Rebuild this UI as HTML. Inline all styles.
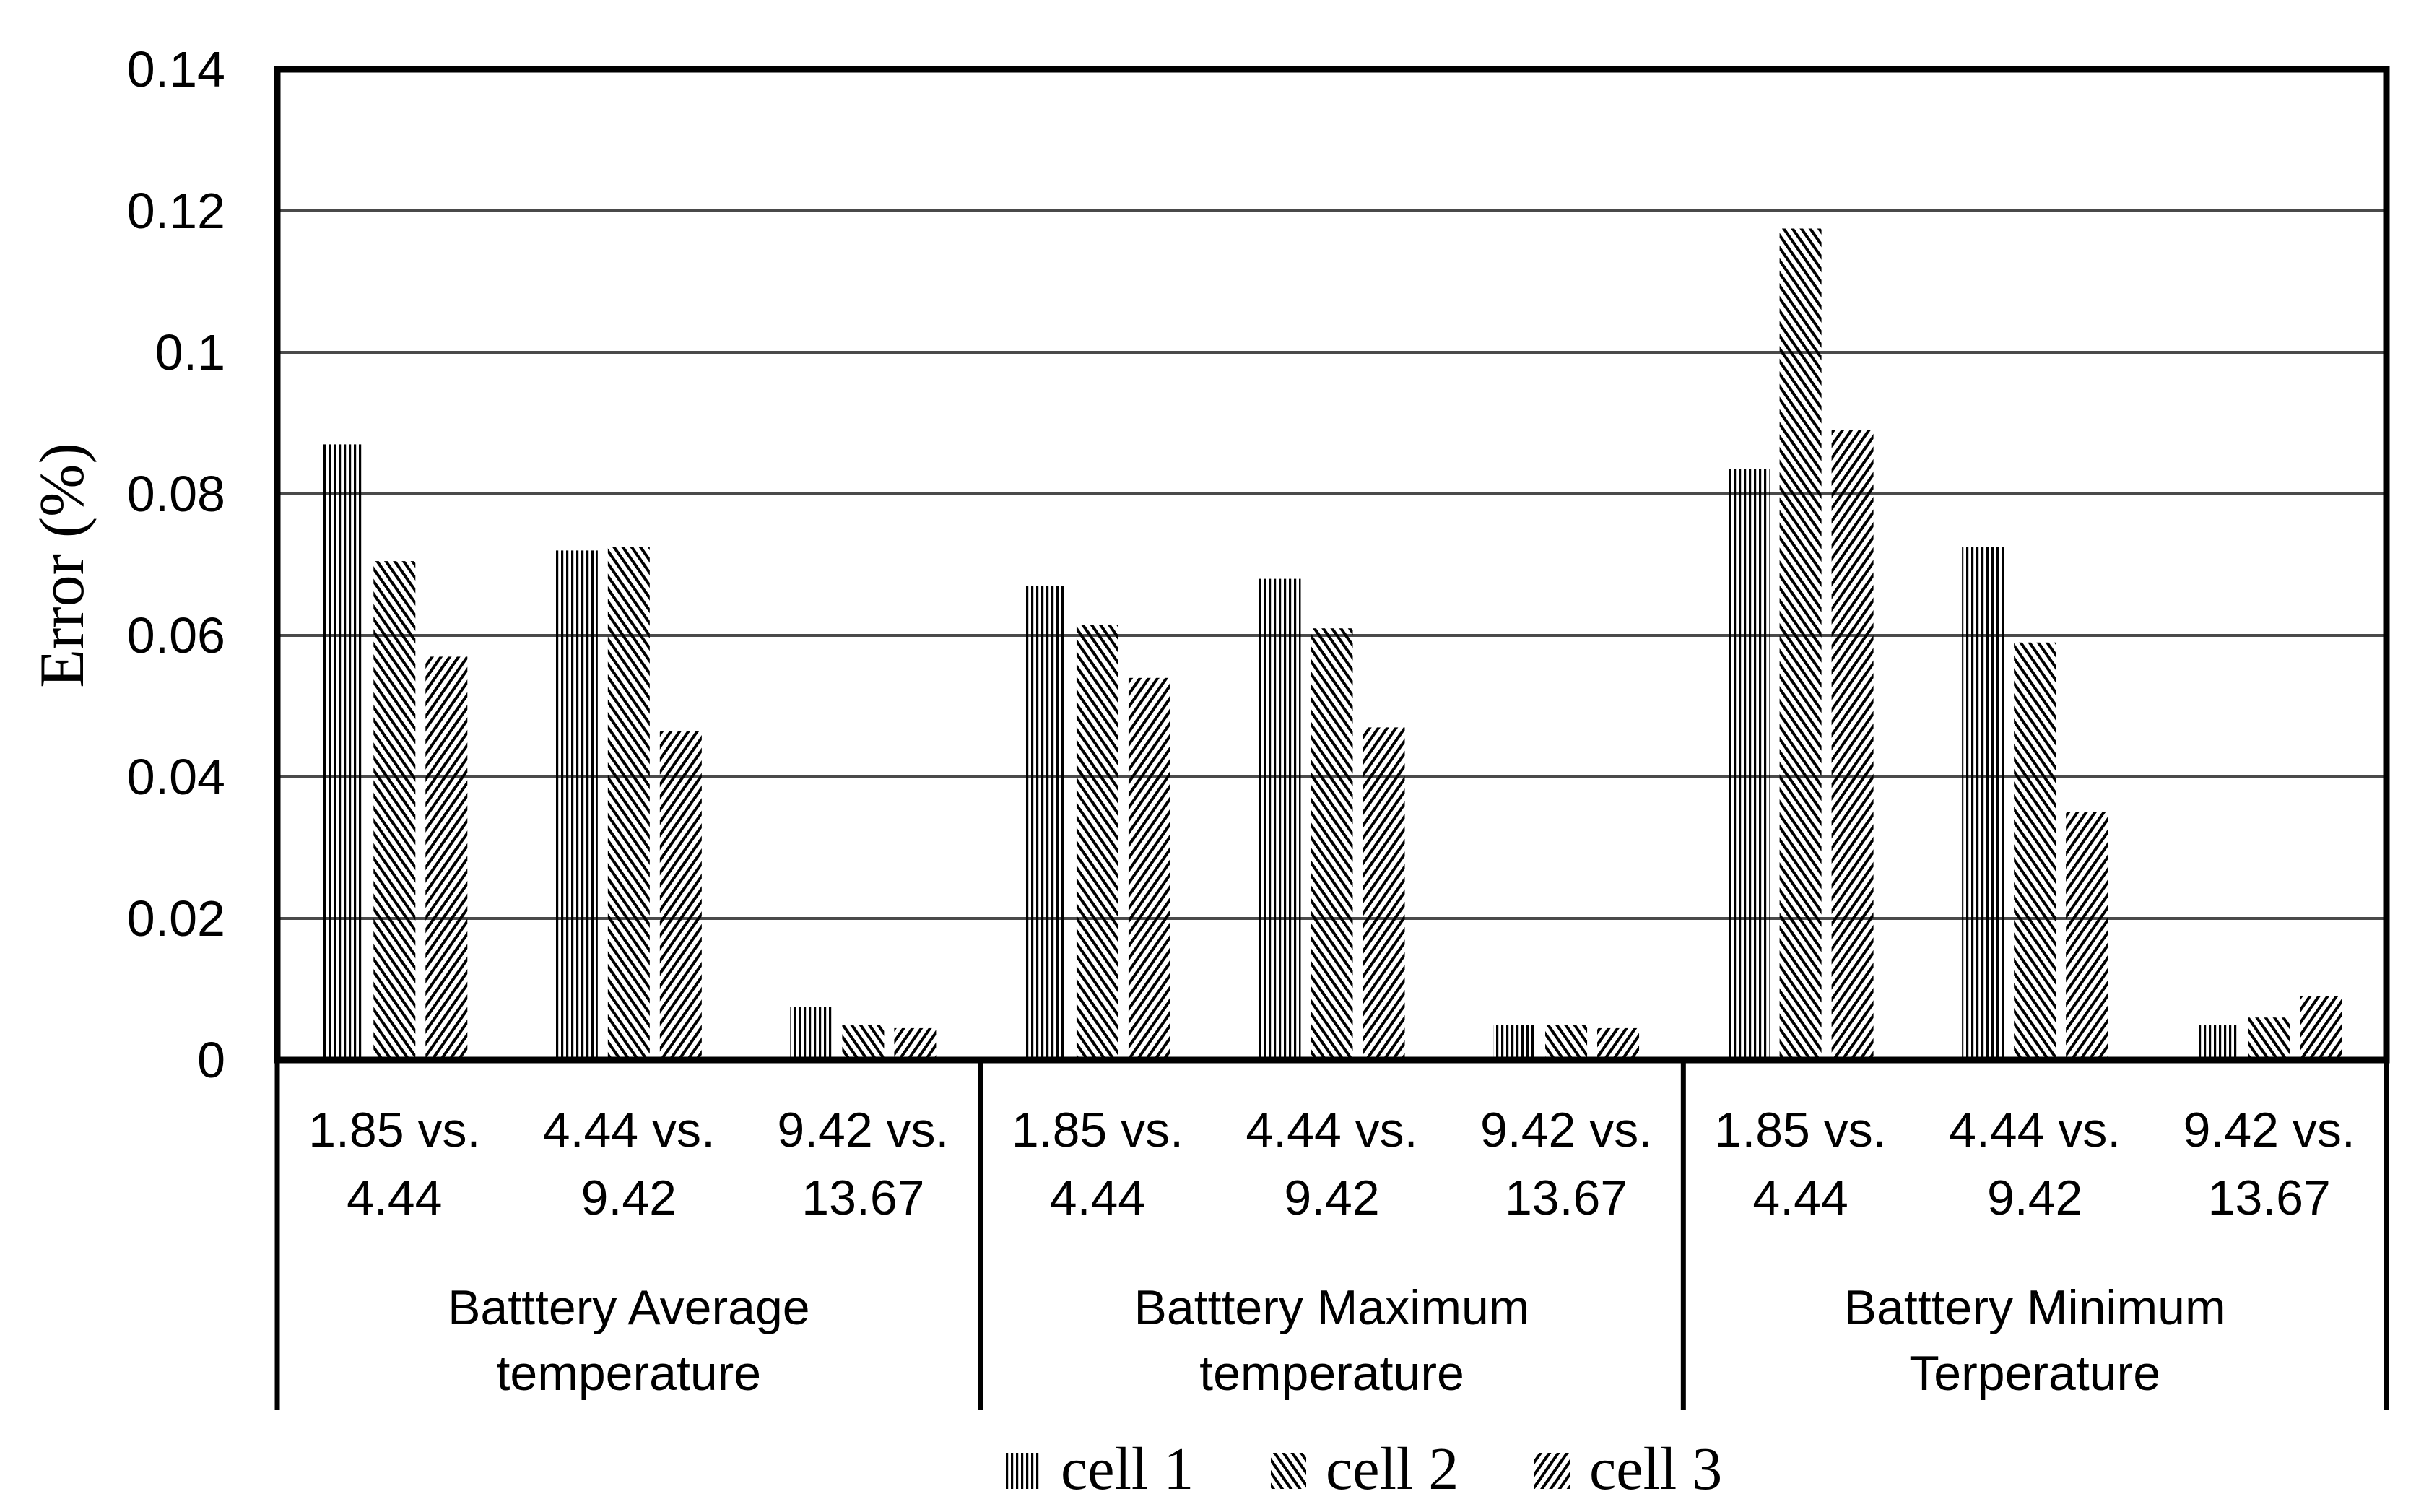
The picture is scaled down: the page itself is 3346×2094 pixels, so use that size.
<!DOCTYPE html>
<html><head><meta charset="utf-8"><style>
html,body{margin:0;padding:0;background:#fff;}
svg{display:block;}
</style></head><body>
<svg id="chart" width="3346" height="2094" viewBox="0 0 3346 2094" xmlns="http://www.w3.org/2000/svg">
<defs>
<pattern id="p1" patternUnits="userSpaceOnUse" width="7" height="7"><rect x="0" y="0" width="3.2" height="7" fill="#000"/></pattern>
<pattern id="p2" patternUnits="userSpaceOnUse" width="10" height="10" patternTransform="rotate(-35)"><rect x="0" y="0" width="4" height="10" fill="#000"/></pattern>
<pattern id="p3" patternUnits="userSpaceOnUse" width="10" height="10" patternTransform="rotate(35)"><rect x="0" y="0" width="4" height="10" fill="#000"/></pattern>
</defs>
<g id="grid"></g>
<g id="bars"></g>
<g id="axes"></g>
<g id="labels"></g>
<text x="0" y="0" transform="translate(115,783) rotate(-90)" text-anchor="middle" font-family="Liberation Serif, serif" font-size="88">Error (%)</text>
<g id="legend"></g>
</svg>
<script>
const yTicks = [0, 0.02, 0.04, 0.06, 0.08, 0.1, 0.12, 0.14];
const yTickLabels = ["0", "0.02", "0.04", "0.06", "0.08", "0.1", "0.12", "0.14"];
const subLine1 = ["1.85 vs.", "4.44 vs.", "9.42 vs."];
const subLine2 = ["4.44", "9.42", "13.67"];
const groupLine1 = ["Batttery Average", "Batttery Maximum", "Batttery Minimum"];
const groupLine2 = ["temperature", "temperature", "Terperature"];
const seriesNames = ["cell 1", "cell 2", "cell 3"];
const cell1 = [0.087, 0.072, 0.0075, 0.067, 0.068, 0.005, 0.0835, 0.0725, 0.005];
const cell2 = [0.0705, 0.0725, 0.005, 0.0615, 0.061, 0.005, 0.1175, 0.059, 0.006];
const cell3 = [0.057, 0.0465, 0.0045, 0.054, 0.047, 0.0045, 0.089, 0.035, 0.009];

const NS = "http://www.w3.org/2000/svg";
const L = 384, R = 3305, T = 96, B = 1468, yMax = 0.14;
const nSlots = cell1.length;
const slotW = (R - L) / nSlots;
function yScale(v){ return B - (v / yMax) * (B - T); }
function xSlot(i){ return L + slotW * (i + 0.5); }
function mk(tag, attrs, parent){ const e = document.createElementNS(NS, tag); for (const k in attrs) e.setAttribute(k, attrs[k]); parent.appendChild(e); return e; }

const grid = document.getElementById('grid');
const labels = document.getElementById('labels');
yTicks.forEach((v, i) => {
  if (v > 0 && v < yMax) {
    const g = mk('line', {x1: L, x2: R, y1: yScale(v), y2: yScale(v), stroke: '#4a4a4a', 'stroke-width': 4}, grid);
    
    
  }
  const t = mk('text', {x: 312, y: yScale(v) + 24, 'text-anchor': 'end', 'font-family': 'Liberation Sans, sans-serif', 'font-size': 70}, labels);
  t.textContent = yTickLabels[i];
  
  
});

const bars = document.getElementById('bars');
const series = [cell1, cell2, cell3];
const offs = [-72, 0, 72];
const bw = 58;
series.forEach((s, si) => {
  s.forEach((v, i) => {
    const y = yScale(v);
    const r = mk('rect', {x: xSlot(i) + offs[si] - bw / 2, y: y, width: bw, height: B - y, fill: 'url(#p' + (si + 1) + ')'}, bars);
    
    
  });
});

const axes = document.getElementById('axes');
const frame = mk('rect', {x: L, y: T, width: R - L, height: B - T, fill: 'none', stroke: '#000', 'stroke-width': 9}, axes);


[0, 3, 6, 9].forEach(k => {
  const x = L + slotW * k;
  const d = mk('line', {x1: x, x2: x, y1: B, y2: 1953, stroke: '#000', 'stroke-width': 7}, axes);
  
  
});

for (let i = 0; i < nSlots; i++) {
  const t1 = mk('text', {x: xSlot(i), y: 1588, 'text-anchor': 'middle', 'font-family': 'Liberation Sans, sans-serif', 'font-size': 68}, labels);
  t1.textContent = subLine1[i % 3];
  
  
  const t2 = mk('text', {x: xSlot(i), y: 1682, 'text-anchor': 'middle', 'font-family': 'Liberation Sans, sans-serif', 'font-size': 68}, labels);
  t2.textContent = subLine2[i % 3];
  
  
}
groupLine1.forEach((g, gi) => {
  const cx = xSlot(gi * 3 + 1);
  const a = mk('text', {x: cx, y: 1834, 'text-anchor': 'middle', 'font-family': 'Liberation Sans, sans-serif', 'font-size': 68}, labels);
  a.textContent = g;
  
  
  const b = mk('text', {x: cx, y: 1925, 'text-anchor': 'middle', 'font-family': 'Liberation Sans, sans-serif', 'font-size': 68}, labels);
  b.textContent = groupLine2[gi];
  
  
});

const legend = document.getElementById('legend');
const lgX = [1393, 1760, 2125];
seriesNames.forEach((n, i) => {
  const sw = mk('rect', {x: lgX[i], y: 2012, width: 49, height: 50, fill: 'url(#p' + (i + 1) + ')'}, legend);
  
  
  const t = mk('text', {x: lgX[i] + 76, y: 2062, 'font-family': 'Liberation Serif, serif', 'font-size': 84}, legend);
  t.textContent = n;
  
  
});
</script>
</body></html>
